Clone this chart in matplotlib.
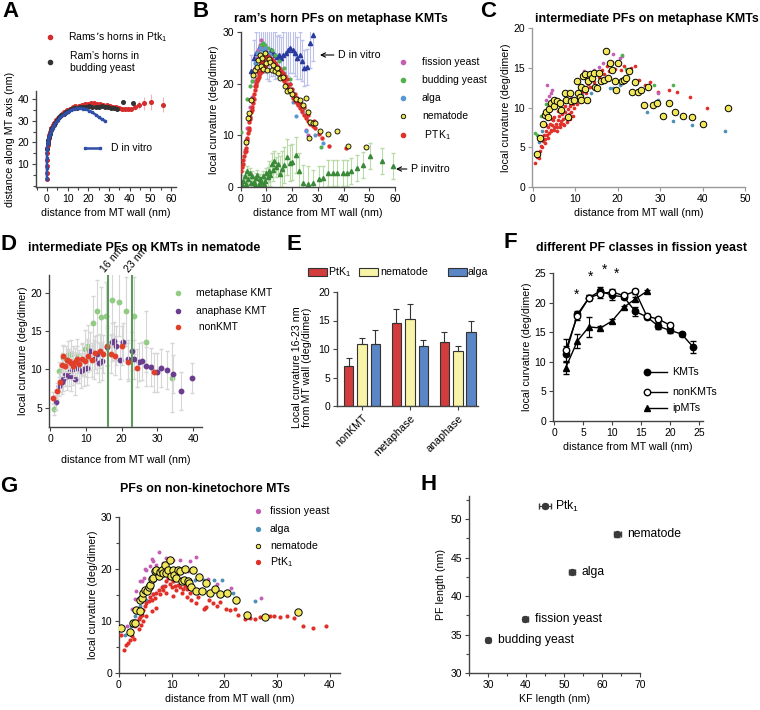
import numpy as np
import matplotlib
matplotlib.use('Agg')
import matplotlib.pyplot as plt
from matplotlib.lines import Line2D
from matplotlib.patches import Rectangle
from matplotlib.ticker import MultipleLocator

plt.rcParams['font.family'] = ['Liberation Sans', 'DejaVu Sans']
plt.rcParams['mathtext.default'] = 'regular'
plt.rcParams['font.size'] = 7.5

W, H = 760, 710

# ---------------- Panel A: ram's horn shapes ----------------
a_ptk_x = [0, 0, 0, 0, 0, 0.2, 0.3, 0.5, 0.8, 1.2, 1.6, 2.1, 2.7, 3.4, 4.2, 5.1, 6.1, 7.2, 8.4, 9.7,
           11.0, 12.4, 13.8, 15.3, 16.8, 18.3, 19.8, 21.3, 22.8, 24.3, 25.8, 27.3, 28.8, 30.3, 31.8,
           33.3, 34.8, 36.3, 37.8, 39.3, 40.8, 42.5, 44.5, 47.0, 50.5, 56.0]
a_ptk_y = [3, 6, 9, 12, 15, 17.5, 19, 20.5, 22, 23.5, 25, 26.5, 27.8, 29, 30.2, 31.3, 32.3, 33.2, 34, 34.8,
           35.5, 36.1, 36.6, 37, 37.4, 37.7, 37.9, 38, 38, 37.9, 37.7, 37.4, 37.1, 36.8, 36.5,
           36.2, 35.9, 35.6, 35.4, 35.3, 35.5, 36.5, 37.2, 38, 38.6, 37.3]
a_ptk_err = [0.8] * 40 + [1.0, 1.5, 2.0, 3.0, 3.5, 3.5]
a_bud_x = [0.1, 0.3, 0.6, 1, 1.5, 2, 2.6, 3.3, 4, 5, 6, 7, 8, 9, 10, 11.5, 13, 14.5, 16, 17.5, 19, 20.5,
           22, 23.5, 25, 26.5, 28, 29.5, 31, 32.5, 34, 37, 41.5]
a_bud_y = [17, 19.5, 21, 22.5, 24, 25.5, 26.8, 28, 29, 30.3, 31.5, 32.5, 33.3, 34, 34.6, 35.2, 35.7, 36,
           36.2, 36.4, 36.5, 36.6, 36.5, 36.4, 36.5, 36.6, 36.4, 36.2, 36, 35.8, 35.6, 38.5, 38]
a_dvit_x = [0, 0, 0, 0.1, 0.3, 0.6, 1, 1.5, 2, 2.7, 3.5, 4.4, 5.4, 6.5, 7.7, 9, 10.3, 11.7, 13.1, 14.5,
            16, 17.5, 19, 20.5, 22, 23.5, 25, 26.5, 28.2]
a_dvit_y = [3, 8, 13, 17, 19.5, 21, 22.5, 24, 25.3, 26.6, 28, 29.2, 30.4, 31.5, 32.5, 33.4, 34.2, 34.9,
            35.4, 35.7, 35.8, 35.6, 35.2, 34.6, 33.8, 32.8, 31.7, 30.7, 29.8]

# ---------------- Panel B: ram's horn PFs ----------------
b_ptk_x = [0.3, 0.5, 0.8, 1.0, 1.3, 1.6, 1.9, 2.2, 2.5, 2.8, 3.1, 3.4, 3.7, 4.0, 4.3, 4.6, 4.9, 5.2, 5.5,
           5.8, 6.1, 6.4, 6.7, 7.0, 7.3, 7.6, 7.9, 8.2, 8.5, 8.8, 9.1, 9.4, 9.7, 10.0, 10.4, 10.8, 11.2,
           11.6, 12.0, 12.4, 12.8, 13.2, 13.6, 14.0, 14.5, 15.0, 15.5, 16.0, 16.5, 17.0, 17.5, 18.0,
           18.6, 19.2, 19.8, 20.4, 21.0, 21.7, 22.4, 23.1, 23.8, 24.6, 25.4, 26.2, 27.0, 28.0, 29.0,
           30.5, 31.5, 34.5, 41.0,
           2.0, 2.6, 3.2, 3.8, 4.4, 5.0, 5.6, 6.2, 6.8, 7.4, 8.0, 8.6, 9.2, 9.8, 10.5, 11.2, 11.9, 12.6,
           13.3, 14.0, 14.8, 15.6, 16.4, 17.2, 18.0, 19.0, 20.0, 21.0, 22.0, 23.0, 24.5, 26.0, 28.5]
b_ptk_y = [3.0, 3.8, 4.5, 5.2, 6.0, 6.8, 7.6, 8.5, 9.5, 10.5, 11.5, 12.5, 13.5, 14.5, 15.5, 16.3, 17.2,
           18.0, 18.8, 19.5, 20.0, 20.5, 21.0, 21.3, 21.7, 22.0, 22.3, 22.5, 22.8, 23.0, 23.2, 23.5,
           23.7, 24.0, 24.3, 24.5, 24.3, 24.6, 24.2, 24.5, 24.0, 23.8, 23.5, 23.2, 22.8, 22.3, 21.8,
           21.4, 21.0, 20.5, 20.0, 19.6, 19.0, 18.5, 17.8, 17.2, 16.7, 16.2, 15.8, 15.3, 14.8, 14.0,
           13.3, 12.8, 12.2, 11.8, 11.4, 10.2, 9.5, 8.0, 7.5,
           7.0, 9.0, 11.0, 13.2, 15.0, 17.0, 19.5, 21.0, 22.2, 23.0, 24.0, 24.5, 25.0, 25.2, 25.3, 25.0,
           24.8, 24.4, 24.0, 23.5, 23.0, 22.5, 22.0, 21.5, 21.0, 20.0, 19.0, 18.0, 17.3, 16.5, 15.5,
           14.0, 12.8]
b_fis_x = [1.5, 2.0, 2.6, 3.2, 3.8, 4.4, 5.0, 5.6, 6.2, 6.8, 7.4, 8.0, 8.6, 9.2, 10.0, 11.0, 12.0, 13.0,
           14.0, 15.5, 17.0, 18.5, 20.0, 22.0, 24.0, 25.5, 26.0]
b_fis_y = [7.2, 9.0, 11.5, 13.5, 15.5, 17.5, 20.5, 23.0, 25.0, 26.5, 27.5, 28.5, 27.0, 26.5, 26.0, 25.3,
           24.8, 24.2, 23.5, 22.8, 21.5, 20.0, 18.5, 16.5, 14.5, 11.0, 10.0]
b_bud_x = [0.1, 2.5, 3.5, 4.2, 5.0, 6.0, 7.0, 8.0, 8.8, 9.5, 10.5, 12.0, 13.5, 15.0, 17.0, 19.0, 21.0,
           23.0, 24.5, 26.0, 31.2]
b_bud_y = [10.7, 17.0, 19.5, 20.5, 21.5, 24.0, 26.0, 27.5, 28.0, 27.5, 27.0, 26.5, 25.5, 24.5, 23.0,
           21.0, 17.5, 16.0, 15.3, 14.8, 7.8]
b_alg_x = [5.5, 6.5, 7.5, 8.5, 9.5, 10.5, 11.5, 13.0, 15.0, 17.0, 19.0, 20.5, 21.5, 25.5, 29.0, 32.0]
b_alg_y = [24.0, 26.0, 27.0, 26.5, 27.0, 26.0, 25.5, 24.0, 23.0, 22.0, 20.0, 16.5, 13.8, 10.8, 10.0, 8.5]
b_nem_x = [2.1, 3.0, 3.4, 4.0, 4.9, 5.6, 6.2, 6.9, 7.5, 7.8, 8.3, 8.8, 9.5, 9.8, 10.4, 10.9, 11.4, 12.0,
           12.7, 13.3, 14.0, 14.6, 15.3, 16.3, 17.2, 18.1, 19.2, 19.8, 21.5, 23.1, 24.4, 25.5, 26.0,
           27.0, 28.0, 29.0, 26.5, 31.0, 34.0, 37.5, 41.8, 48.8]
b_nem_y = [8.7, 13.3, 14.3, 16.9, 21.7, 22.7, 23.3, 24.6, 25.6, 23.5, 25.0, 22.8, 25.9, 24.0, 22.7, 24.8,
           24.2, 22.6, 23.7, 22.4, 23.0, 22.0, 21.1, 21.4, 19.6, 18.5, 18.8, 18.1, 17.0, 16.9, 15.9,
           17.2, 14.5, 12.5, 12.3, 12.4, 9.5, 10.8, 10.3, 10.8, 7.9, 7.7]
b_dvit_x = [4.0, 5.0, 6.0, 7.0, 7.8, 8.6, 9.4, 10.2, 11.0, 11.8, 12.6, 13.4, 14.2, 15.0, 15.8, 16.6, 17.5,
            18.4, 19.3, 20.2, 21.1, 22.0, 22.9, 23.8, 24.7, 25.6, 27.0, 28.2]
b_dvit_y = [22.5, 25.0, 26.0, 27.0, 27.5, 27.0, 26.5, 26.0, 25.5, 26.5, 26.0, 25.5, 25.2, 25.5, 25.0,
            25.5, 26.0, 26.5, 27.0, 26.5, 26.0, 25.0, 25.5, 24.5, 23.0, 23.2, 28.0, 29.5]
b_dvit_err = [3.0, 3.5, 4.0, 4.0, 4.5, 4.5, 4.5, 5.0, 5.0, 5.0, 4.5, 4.5, 4.0, 4.0, 4.0, 4.5, 4.5, 5.0,
              5.0, 4.5, 4.5, 4.0, 4.5, 4.0, 3.5, 3.5, 5.0, 5.0]
b_pvit_x = [0.5, 1.0, 1.5, 2.0, 2.5, 3.0, 3.5, 4.0, 4.5, 5.0, 5.5, 6.0, 6.5, 7.0, 7.5, 8.0, 8.5, 9.0,
            9.5, 10.0, 10.5, 11.0, 11.5, 12.0, 12.5, 13.0, 13.7, 14.5, 15.3, 16.0, 17.0, 17.9, 19.0,
            20.0, 21.5, 22.5, 24.4, 26.3, 28.2, 30.5, 32.0, 34.0, 35.8, 37.6, 39.6, 41.2, 43.0, 45.3,
            47.4, 50.3, 54.8, 59.3]
b_pvit_y = [0.3, 1.2, 2.0, 0.5, 3.0, 1.5, 2.6, 0.8, 2.0, 1.0, 0.4, 1.6, 2.3, 0.6, 1.5, 0.9, 2.0, 0.5,
            1.2, 2.6, 1.8, 3.0, 2.2, 4.5, 3.2, 4.9, 3.8, 4.5, 2.5, 3.5, 4.2, 5.8, 4.6, 4.8, 6.2, 3.0,
            0.8, 0.6, 0.8, 1.5, 1.6, 2.6, 2.6, 2.6, 2.7, 2.7, 3.0, 3.6, 4.2, 6.0, 5.0, 4.0]
b_pvit_err = [1.0] * 20 + [2.0] * 8 + [3.5] * 10 + [2.5] * 14

# ---------------- Panel C: intermediate PFs ----------------
c_ptk_x = [0.6, 0.9, 1.2, 1.4, 1.7, 1.9, 2.1, 2.4, 2.6, 2.9, 3.1, 3.3, 3.6, 3.8, 4.0, 4.2, 4.5, 4.7,
           4.9, 5.1, 5.4, 5.6, 5.9, 6.1, 6.3, 6.6, 6.8, 7.1, 7.3, 7.6, 7.9, 8.2, 8.5, 8.8, 9.1, 9.4,
           9.7, 10.0, 10.4, 10.8, 11.2, 11.6, 12.0, 12.5, 13.0, 13.5, 14.0, 14.5, 15.0, 15.6, 16.2,
           16.8, 17.4, 18.0, 18.7, 19.4, 20.1, 20.8, 21.5, 22.3, 23.2, 24.1, 25.0, 26.5, 27.5, 29.5,
           32.0, 34.0, 37.0, 41.0,
           2.0, 2.8, 3.5, 4.3, 5.0, 5.8, 6.5, 7.2, 8.0, 8.7, 9.5, 3.0, 4.6, 6.0, 7.5, 9.0, 10.5, 11.5]
c_ptk_y = [3.0, 3.8, 4.2, 3.6, 4.5, 5.2, 5.0, 5.8, 6.5, 6.0, 7.0, 6.6, 7.5, 6.8, 8.0, 7.2, 7.8, 8.4,
           7.5, 8.8, 8.0, 7.6, 8.5, 9.0, 7.9, 8.3, 9.2, 8.6, 7.8, 9.5, 8.8, 9.8, 9.2, 10.2, 9.5, 10.5,
           10.0, 11.0, 10.4, 11.5, 11.0, 12.0, 12.5, 11.8, 13.0, 12.6, 13.8, 13.2, 14.5, 13.8, 14.8,
           14.2, 15.3, 14.6, 15.8, 14.9, 15.5, 14.8, 15.2, 14.6, 15.0, 15.2, 13.5, 12.8, 13.2, 12.0,
           12.2, 12.0, 11.3, 9.9,
           6.2, 5.5, 6.2, 7.0, 7.2, 7.0, 7.6, 8.0, 8.2, 8.6, 9.0, 7.8, 8.6, 9.6, 10.2, 10.8, 12.0, 12.5]
c_fis_x = [3.0, 3.4, 3.8, 4.2, 4.5, 9.0, 12.0, 13.5, 14.5, 15.5, 16.5, 19.0, 20.5, 21.0, 29.5]
c_fis_y = [11.0, 12.9, 11.5, 11.8, 12.2, 11.2, 14.6, 14.2, 14.8, 15.1, 15.6, 16.8, 16.2, 16.5, 11.8]
c_bud_x = [0.5, 1.0, 2.0, 2.6, 3.2, 4.0, 20.0, 21.0, 22.0, 28.5, 33.0]
c_bud_y = [6.8, 6.6, 8.9, 9.1, 10.4, 10.0, 15.8, 16.6, 14.9, 12.9, 12.9]
c_alg_x = [1.5, 2.2, 3.5, 5.2, 11.5, 13.8, 15.0, 18.2, 19.0, 20.5, 27.0, 29.5, 33.0, 37.5, 45.2]
c_alg_y = [5.7, 7.0, 9.8, 10.3, 11.6, 11.8, 12.5, 12.5, 12.5, 12.9, 9.5, 11.0, 8.3, 7.8, 7.1]
c_nem_x = [0.9, 1.8, 2.4, 2.8, 3.1, 3.5, 3.9, 4.3, 4.9, 5.1, 5.7, 6.3, 6.7, 7.5, 7.9, 8.3, 8.7, 9.1,
           9.8, 10.4, 10.7, 11.0, 11.3, 11.4, 11.8, 12.2, 12.4, 12.8, 13.0, 13.4, 14.0, 14.4, 14.6,
           15.1, 15.6, 16.1, 16.7, 17.2, 17.7, 18.1, 18.7, 19.3, 19.7, 20.1, 20.9, 21.4, 22.0, 22.6,
           23.4, 24.0, 24.7, 25.5, 26.1, 27.2, 28.2, 29.3, 30.6, 32.0, 33.5, 35.3, 37.5, 40.2, 45.9]
c_nem_y = [4.2, 6.2, 8.0, 9.1, 9.4, 8.8, 9.8, 10.6, 10.2, 11.0, 10.9, 10.6, 9.7, 11.8, 11.0, 8.8, 11.9,
           10.8, 11.0, 13.3, 11.9, 11.4, 12.6, 11.0, 14.0, 12.3, 14.3, 11.0, 13.3, 14.3, 13.7, 14.4,
           12.6, 12.5, 14.4, 13.3, 13.5, 17.2, 13.7, 15.6, 14.7, 13.4, 12.2, 15.6, 13.3, 13.5, 13.7,
           14.6, 12.0, 13.2, 12.0, 12.2, 10.3, 12.6, 10.3, 10.6, 8.9, 10.6, 9.5, 8.9, 8.8, 8.0, 9.9]

# ---------------- Panel D: nematode KMT classes ----------------
d_met_x = [1.1, 2.6, 3.5, 4.5, 5.1, 5.8, 6.5, 7.4, 8.2, 8.9, 9.8, 10.4, 10.7, 11.9, 13.0, 14.2, 15.6,
           17.4, 19.2, 21.2, 23.4, 26.9, 34.2]
d_met_y = [4.8, 9.8, 11.5, 11.6, 11.9, 12.0, 11.1, 11.9, 10.2, 11.3, 12.6, 11.5, 13.0, 16.0, 17.6, 16.8,
           16.9, 19.1, 18.8, 17.6, 17.0, 13.6, 8.9]
d_met_err = [0.8, 1.2, 1.5, 1.5, 1.8, 1.8, 2.0, 2.0, 2.0, 2.2, 2.5, 2.5, 2.8, 3.5, 4.0, 4.0, 4.5, 4.5,
             4.5, 4.5, 5.0, 4.0, 4.5]
d_ana_x = [1.7, 2.6, 3.3, 3.7, 4.2, 4.7, 5.2, 5.8, 6.3, 7.1, 7.6, 8.6, 9.5, 10.4, 11.3, 12.3, 13.0,
           13.7, 14.5, 15.8, 17.2, 17.9, 18.4, 19.5, 20.5, 21.9, 22.9, 23.4, 24.9, 25.6, 26.9, 28.1,
           29.8, 30.9, 32.6, 34.4, 36.7, 39.8]
d_ana_y = [5.7, 7.8, 8.3, 8.7, 9.3, 9.1, 9.6, 9.2, 10.0, 8.7, 10.2, 9.8, 10.0, 10.2, 12.4, 11.3, 12.0,
           10.9, 11.1, 12.9, 13.6, 13.7, 13.1, 11.2, 13.6, 11.3, 12.4, 11.3, 11.0, 11.1, 10.4, 10.3,
           9.6, 10.2, 9.9, 9.4, 7.2, 8.9]
d_ana_err = [1.0, 1.2, 1.5, 1.5, 1.5, 1.8, 1.8, 2.0, 2.0, 2.0, 2.0, 2.2, 2.2, 2.2, 2.5, 2.5, 2.5, 2.5,
             2.5, 2.5, 2.5, 2.5, 2.5, 2.5, 2.5, 2.5, 2.5, 2.5, 2.5, 2.5, 2.5, 2.5, 2.5, 2.5, 2.5,
             2.5, 2.5, 2.0]
d_non_x = [0.9, 2.0, 2.8, 3.3, 3.7, 4.3, 4.7, 5.2, 5.8, 6.3, 6.9, 7.4, 8.0, 8.8, 9.8, 10.7, 11.7, 12.7,
           13.9, 14.9, 16.0, 17.0, 18.1, 20.0, 21.7, 24.4, 29.0]
d_non_y = [6.3, 7.2, 8.3, 10.6, 11.7, 10.4, 11.2, 11.1, 10.9, 10.5, 11.0, 11.3, 10.7, 11.3, 11.1, 11.7,
           11.2, 12.2, 12.4, 12.0, 13.1, 12.0, 11.8, 13.1, 11.0, 10.2, 9.6]
d_non_err = [0.8, 1.0, 1.2, 1.5, 1.5, 1.5, 1.5, 1.5, 1.5, 1.8, 1.8, 1.8, 1.8, 2.0, 2.0, 2.0, 2.2, 2.2,
             2.2, 2.5, 2.5, 2.5, 2.5, 2.5, 2.5, 2.5, 2.5]
d_marks = [16.3, 23.0]

# ---------------- Panel E: mean curvature 16-23 nm ----------------
e_groups = ['nonKMT', 'metaphase', 'anaphase']
e_ptk = [7.0, 14.6, 11.3]
e_ptk_err = [1.5, 2.4, 1.6]
e_nem = [10.9, 15.3, 9.7]
e_nem_err = [1.1, 2.6, 0.8]
e_alg = [10.9, 10.6, 13.0]
e_alg_err = [2.4, 0.9, 2.0]

# ---------------- Panel F: fission yeast PF classes ----------------
f_kmt_x = [2, 4, 6, 8, 10, 12, 14, 16, 18, 20, 22, 24]
f_kmt_y = [11.3, 18.0, 20.8, 22.0, 21.2, 21.0, 18.5, 17.6, 16.0, 15.3, 14.7, 12.5]
f_kmt_err = [1.3, 0.5, 0.4, 0.6, 0.7, 0.4, 0.8, 0.4, 0.5, 0.5, 0.3, 1.0]
f_non_x = [2, 4, 6, 8, 10, 12, 14, 16, 18, 20]
f_non_y = [12.0, 17.7, 20.8, 21.5, 21.8, 21.2, 21.9, 17.7, 17.2, 16.2]
f_non_err = [1.8, 0.6, 0.4, 0.8, 0.5, 0.5, 0.4, 0.3, 0.4, 0.4]
f_ip_x = [2, 4, 6, 8, 10, 12, 14, 16]
f_ip_y = [9.0, 13.5, 15.9, 15.7, 16.9, 19.2, 20.6, 21.9]
f_ip_err = [1.0, 1.2, 1.7, 0.3, 0.3, 0.3, 0.3, 0.3]
f_star_x = [3.9, 6.3, 8.7, 10.7]
f_star_y = [21.3, 24.4, 25.6, 24.9]

# ---------------- Panel G: non-kinetochore MTs ----------------
g_nem_x = [0.3, 2.1, 2.7, 3.0, 3.3, 3.9, 4.0, 4.3, 4.6, 4.9, 5.4, 5.6, 5.9, 6.2, 6.5, 6.8, 7.1, 7.5, 7.8,
           8.1, 8.4, 8.7, 9.0, 9.3, 9.7, 9.9, 10.2, 10.4, 10.8, 11.1, 11.6, 11.9, 12.3, 12.6, 13.0,
           13.2, 13.6, 14.0, 14.6, 15.2, 15.7, 16.5, 17.2, 18.2, 19.1, 20.4, 22.1, 24.2, 27.7, 34.0]
g_nem_y = [8.7, 7.8, 9.7, 9.7, 12.2, 14.0, 11.9, 14.4, 15.4, 16.0, 15.8, 16.5, 17.0, 18.1, 18.3, 19.6,
           19.9, 18.6, 19.4, 19.9, 19.2, 20.7, 19.2, 19.9, 21.8, 18.6, 19.9, 18.9, 18.3, 19.9, 19.7,
           17.6, 17.9, 20.0, 17.6, 17.4, 16.5, 19.9, 15.7, 18.5, 15.8, 17.3, 15.3, 16.2, 15.1, 15.4,
           14.0, 11.2, 10.7, 11.7]
g_ptk_x = [0.3, 0.9, 1.3, 1.8, 2.1, 2.4, 2.8, 3.0, 3.3, 3.7, 4.0, 4.3, 4.6, 4.9, 5.2, 5.6, 5.9, 6.2,
           6.5, 6.8, 7.1, 7.5, 7.8, 8.1, 8.4, 8.7, 9.0, 9.3, 9.7, 10.0, 10.3, 10.6, 10.9, 11.2, 11.6,
           12.1, 12.5, 12.9, 13.5, 14.0, 14.4, 15.0, 15.5, 16.1, 16.5, 17.1, 17.8, 18.5, 19.1, 20.3,
           21.0, 22.0, 22.6, 23.9, 24.8, 25.8, 26.7, 28.6, 29.4, 30.5, 31.8, 33.2, 34.8, 36.7, 39.2,
           7.1, 6.2, 5.2, 4.6, 4.1, 3.7, 9.0, 10.3, 11.9, 12.8, 13.7, 14.6, 16.3]
g_ptk_y = [7.4, 4.5, 5.4, 5.8, 6.3, 7.1, 6.5, 9.0, 9.6, 10.3, 10.8, 11.2, 12.2, 12.8, 13.5, 13.8, 14.6,
           14.1, 15.1, 14.4, 15.4, 16.0, 15.1, 16.5, 16.0, 16.8, 17.6, 18.3, 17.2, 16.5, 17.6, 16.8,
           16.0, 17.0, 16.5, 16.2, 16.7, 16.2, 15.4, 16.3, 15.5, 14.6, 16.0, 12.3, 12.7, 14.0, 13.5,
           12.9, 13.6, 12.3, 12.2, 12.3, 11.2, 10.3, 10.6, 10.4, 10.8, 10.9, 11.0, 10.8, 10.9, 10.6,
           9.0, 8.7, 9.0,
           12.5, 12.0, 11.0, 10.0, 9.2, 8.5, 15.3, 14.8, 15.3, 14.7, 14.1, 13.5, 12.5]
g_fis_x = [1.5, 2.4, 3.0, 3.3, 3.9, 4.3, 4.7, 4.9, 5.2, 5.9, 6.2, 6.5, 7.0, 7.6, 8.4, 9.0, 10.3, 11.6,
           13.1, 13.5, 14.6, 15.4, 16.9, 18.5, 21.3, 27.0]
g_fis_y = [9.0, 12.3, 14.2, 15.7, 17.6, 17.6, 18.3, 20.0, 19.9, 20.5, 22.0, 21.5, 20.8, 23.2, 21.1, 22.1,
           21.8, 21.8, 19.6, 21.5, 22.3, 18.6, 18.0, 17.2, 16.3, 14.4]
g_alg_x = [1.1, 2.2, 3.0, 4.0, 5.2, 6.5, 8.4, 10.3, 12.8, 14.4, 16.1, 18.0, 19.5, 21.7, 25.8]
g_alg_y = [7.4, 9.0, 11.0, 12.8, 14.1, 15.1, 16.7, 17.6, 17.9, 17.8, 17.8, 17.8, 17.8, 15.3, 13.8]

# ---------------- Panel H: PF length vs KF length ----------------
h_names = ['Ptk$_1$', 'nematode', 'alga', 'fission yeast', 'budding yeast']
h_kf = [45.0, 64.0, 52.1, 39.8, 30.0]
h_kf_err = [1.6, 0.9, 0.8, 0.6, 0.6]
h_pf = [51.7, 48.0, 43.1, 37.0, 34.3]
h_pf_err = [0.3, 0.3, 0.3, 0.3, 0.3]

RED = '#e0302a'
MAG = '#c45fb3'
GRN = '#52b04f'
BLU = '#5b98d2'
TEAL = '#4f90b5'
YEL = '#f0e85a'
DARK = '#444444'
LAB = 7.7

fig = plt.figure(figsize=(W / 100, H / 100), dpi=100)


def new_ax(l, t, r, b, color=DARK):
    ax = fig.add_axes([l / W, 1 - b / H, (r - l) / W, (b - t) / H])
    for s in ['top', 'right']:
        ax.spines[s].set_visible(False)
    for s in ['left', 'bottom']:
        ax.spines[s].set_color(color)
        ax.spines[s].set_linewidth(1.0)
    ax.tick_params(which='both', direction='out', length=3, width=0.8, color=color,
                   labelsize=7.5, pad=2)
    ax.tick_params(which='minor', length=2)
    ax.patch.set_alpha(0)
    return ax


def key(xs, y, text, tx, fs=7.5, **kw):
    fig.add_artist(Line2D([x / W for x in xs], [1 - y / H] * len(xs),
                          transform=fig.transFigure, **kw))
    fig.text(tx / W, 1 - y / H, text, va='center', ha='left', fontsize=fs)


def letter(x, y, s):
    fig.text(x / W, 1 - y / H, s, fontsize=16, fontweight='bold', va='top', ha='left')


def title(x, y, s):
    fig.text(x / W, 1 - y / H, s, fontsize=8.9, fontweight='bold', va='center', ha='center')


# ---------- A ----------
ax = new_ax(36, 91, 176, 187)
ax.errorbar(a_ptk_x, a_ptk_y, yerr=a_ptk_err, fmt='o', ms=2.6, color='#d42b2b',
            ecolor='#f2b5b5', elinewidth=0.8, zorder=2)
ax.errorbar(a_bud_x, a_bud_y, yerr=[0.7] * len(a_bud_x), fmt='o', ms=2.6, color='#333333',
            ecolor='#c0c0c0', elinewidth=0.8, zorder=3)
ax.plot(a_dvit_x, a_dvit_y, '-s', color='#2f4fa8', lw=1.8, ms=2, zorder=4)
ax.set_xlim(-5.3, 62.4)
ax.set_ylim(-0.6, 43.7)
ax.xaxis.set_major_locator(MultipleLocator(10))
ax.xaxis.set_minor_locator(MultipleLocator(5))
ax.set_yticks([10, 20, 30, 40])
ax.yaxis.set_minor_locator(MultipleLocator(5))
ax.set_xlabel('distance from MT wall (nm)', fontsize=LAB, labelpad=3)
ax.set_ylabel('distance along MT axis (nm)', fontsize=LAB, labelpad=2)
key([50], 37, 'Rams\u2019s horns in Ptk$_1$', 68, marker='o', ms=3, color='#d42b2b', ls='none')
key([50], 62, 'Ram\u2019s horns in\nbudding yeast', 70, marker='o', ms=3, color='#333333', ls='none')
key([85, 100], 148, 'D in vitro', 111, marker='s', ms=2, markevery=[0, 1], color='#2f4fa8', lw=1.8)
letter(2, 1, 'A')

# ---------- B ----------
ax = new_ax(240.7, 32.3, 395, 186.7)
ax.errorbar(b_pvit_x, b_pvit_y, yerr=b_pvit_err, fmt='^', ms=3, color='#3a8a3a',
            ecolor='#b8dba8', elinewidth=0.8, capsize=1.5, zorder=2)
ax.errorbar(b_dvit_x, b_dvit_y, yerr=b_dvit_err, fmt='^', ms=3, color='#2b3a9e',
            ecolor='#bcc2ea', elinewidth=0.8, capsize=1.5, zorder=2)
ax.scatter(b_fis_x, b_fis_y, s=9, color=MAG, lw=0, zorder=3)
ax.scatter(b_bud_x, b_bud_y, s=9, color=GRN, lw=0, zorder=3)
ax.scatter(b_alg_x, b_alg_y, s=9, color=BLU, lw=0, zorder=3)
ax.scatter(b_ptk_x, b_ptk_y, s=10, color=RED, lw=0, zorder=4)
ax.scatter(b_nem_x, b_nem_y, s=13, color=YEL, edgecolor='black', lw=0.6, zorder=5)
ax.set_xlim(0, 60)
ax.set_ylim(0, 30)
ax.set_xticks(range(0, 61, 10))
ax.set_yticks([0, 10, 20, 30])
ax.set_xlabel('distance from MT wall (nm)', fontsize=LAB, labelpad=3)
ax.set_ylabel('local curvature (deg/dimer)', fontsize=LAB, labelpad=2)
fig.add_artist(matplotlib.text.Annotation('D in vitro', xy=(320 / W, 1 - 55 / H),
               xytext=(338 / W, 1 - 55 / H), xycoords='figure fraction',
               textcoords='figure fraction', va='center', ha='left', fontsize=7.7,
               arrowprops=dict(arrowstyle='->', lw=0.8, color='black', shrinkA=1, shrinkB=0)))
fig.add_artist(matplotlib.text.Annotation('P invitro', xy=(396 / W, 1 - 169 / H),
               xytext=(411 / W, 1 - 169 / H), xycoords='figure fraction',
               textcoords='figure fraction', va='center', ha='left', fontsize=7.7,
               arrowprops=dict(arrowstyle='->', lw=0.8, color='black', shrinkA=1, shrinkB=0)))
key([403], 62, 'fission yeast', 422, marker='o', ms=3, color=MAG, ls='none')
key([403], 80, 'budding yeast', 422, marker='o', ms=3, color=GRN, ls='none')
key([403], 98, 'alga', 422, marker='o', ms=3, color=BLU, ls='none')
key([403], 116, 'nematode', 422, marker='o', ms=3.2, mfc=YEL, mec='black', mew=0.6, ls='none')
key([403], 135, ' PTK$_1$', 422, marker='o', ms=3, color=RED, ls='none')
title(341, 19, 'ram\u2019s horn PFs on metaphase KMTs')
letter(192, 1, 'B')

# ---------- C ----------
ax = new_ax(532, 28.3, 745, 187, color='#999999')
ax.scatter(c_ptk_x, c_ptk_y, s=7, color=RED, lw=0, zorder=2)
ax.scatter(c_fis_x, c_fis_y, s=7, color=MAG, lw=0, zorder=2)
ax.scatter(c_bud_x, c_bud_y, s=7, color=GRN, lw=0, zorder=2)
ax.scatter(c_alg_x, c_alg_y, s=7, color=TEAL, lw=0, zorder=2)
ax.scatter(c_nem_x, c_nem_y, s=22, color=YEL, edgecolor='black', lw=0.7, zorder=3)
ax.set_xlim(-0.2, 50)
ax.set_ylim(0, 20)
ax.set_xticks(range(0, 51, 10))
ax.set_yticks([0, 5, 10, 15, 20])
ax.set_xlabel('distance from MT wall (nm)', fontsize=LAB, labelpad=3)
ax.set_ylabel('local curvature (deg/dimer)', fontsize=LAB, labelpad=2)
title(647, 19, 'intermediate PFs on metaphase KMTs')
letter(480, 1, 'C')

# ---------- D ----------
ax = new_ax(49, 275, 202, 427)
ax.errorbar(d_met_x, d_met_y, yerr=d_met_err, fmt='o', ms=3.2, color='#92cc84',
            ecolor='#d6d6d6', elinewidth=0.8, capsize=1.5, zorder=2)
ax.errorbar(d_ana_x, d_ana_y, yerr=d_ana_err, fmt='o', ms=3.2, color='#6a3d8f',
            ecolor='#d6d6d6', elinewidth=0.8, capsize=1.5, zorder=3)
ax.errorbar(d_non_x, d_non_y, yerr=d_non_err, fmt='o', ms=3.2, color='#e0402a',
            ecolor='#d6d6d6', elinewidth=0.8, capsize=1.5, zorder=4)
for xm in d_marks:
    ax.axvline(xm, color='#5c9a5c', lw=1.5, zorder=5)
ax.text(15.4, 22.6, '16 nm', rotation=50, rotation_mode='anchor', ha='left', va='baseline',
        fontsize=7.7)
ax.text(22.1, 22.6, '23 nm', rotation=50, rotation_mode='anchor', ha='left', va='baseline',
        fontsize=7.7)
ax.set_xlim(-0.3, 42.5)
ax.set_ylim(2.5, 22.3)
ax.set_xticks(range(0, 41, 10))
ax.set_yticks([5, 10, 15, 20])
ax.set_xlabel('distance from MT wall (nm)', fontsize=LAB, labelpad=8)
ax.set_ylabel('local curvature (deg/dimer)', fontsize=LAB, labelpad=2)
key([178], 293, 'metaphase KMT', 196, marker='o', ms=3, color='#92cc84', ls='none')
key([178], 311, 'anaphase KMT', 196, marker='o', ms=3, color='#6a3d8f', ls='none')
key([178], 327, ' nonKMT', 196, marker='o', ms=3, color='#e0402a', ls='none')
title(144, 248, 'intermediate PFs on KMTs in nematode')
letter(0, 234, 'D')

# ---------- E ----------
ax = new_ax(337, 292, 478, 406)
xe = np.arange(len(e_groups))
bw, off = 0.2, 0.28
for dx, vals, errs, col in [(-off, e_ptk, e_ptk_err, '#d23c3c'), (0, e_nem, e_nem_err, '#f7f4a8'),
                            (off, e_alg, e_alg_err, '#5a86c6')]:
    ax.bar(xe + dx, vals, bw, color=col, edgecolor='#333333', lw=0.8,
           yerr=[[0] * 3, errs], error_kw=dict(ecolor='#333333', elinewidth=0.8, capsize=2.5,
                                                capthick=0.8))
ax.set_xlim(-0.52, 2.42)
ax.set_ylim(0, 20)
ax.set_yticks([0, 5, 10, 15, 20])
ax.set_xticks(xe)
ax.set_xticklabels(e_groups, rotation=45, ha='right', rotation_mode='anchor', fontsize=7.7)
fig.text(302 / W, 1 - 367 / H, 'Local curvature 16-23 nm\nfrom MT wall (deg/dimer)',
         rotation=90, ha='center', va='center', fontsize=LAB, multialignment='center',
         linespacing=1.1)
for rx, col, lab, tx in [(308, '#d23c3c', 'PtK$_1$', 328), (359, '#f7f4a8', 'nematode', 380),
                         (448, '#5a86c6', 'alga', 468)]:
    fig.add_artist(Rectangle((rx / W, 1 - 276 / H), 19 / W, 8 / H, transform=fig.transFigure,
                             facecolor=col, edgecolor='#333333', lw=0.8))
    fig.text(tx / W, 1 - 272 / H, lab, va='center', ha='left', fontsize=7.7)
letter(286, 234, 'E')

# ---------- F ----------
ax = new_ax(553, 273, 703, 421)
ax.errorbar(f_ip_x, f_ip_y, yerr=f_ip_err, fmt='-^', ms=4.2, color='black', lw=1,
            capsize=2.5, elinewidth=0.8, zorder=2)
ax.errorbar(f_kmt_x, f_kmt_y, yerr=f_kmt_err, fmt='-o', ms=4.6, color='black', lw=1,
            capsize=2.5, elinewidth=0.8, zorder=3)
ax.errorbar(f_non_x, f_non_y, yerr=f_non_err, fmt='-o', ms=4.6, color='black', mfc='white',
            lw=1, capsize=2.5, elinewidth=0.8, zorder=4)
for sx, sy in zip(f_star_x, f_star_y):
    ax.text(sx, sy, '*', ha='center', va='center', fontsize=10, clip_on=False)
ax.set_xlim(-0.2, 25.7)
ax.set_ylim(0, 25)
ax.set_xticks(range(0, 26, 5))
ax.set_yticks(range(0, 26, 5))
ax.set_xlabel('distance from MT wall (nm)', fontsize=LAB, labelpad=3)
ax.set_ylabel('local curvature (deg/dimer)', fontsize=LAB, labelpad=2)
key([647, 667], 372, 'KMTs', 672, fs=7.7, marker='o', ms=4.6, markevery=[0], color='black', lw=1)
key([647, 667], 392, 'nonKMTs', 672, fs=7.7, marker='o', ms=4.6, markevery=[0], color='black',
    mfc='white', lw=1)
key([647, 667], 408, 'ipMTs', 672, fs=7.7, marker='^', ms=4.2, markevery=[0], color='black', lw=1)
title(641, 248, 'different PF classes in fission yeast')
letter(504, 232, 'F')

# ---------- G ----------
ax = new_ax(119, 517, 340, 673)
ax.scatter(g_fis_x, g_fis_y, s=8, color=MAG, lw=0, zorder=2)
ax.scatter(g_alg_x, g_alg_y, s=8, color=TEAL, lw=0, zorder=2)
ax.scatter(g_ptk_x, g_ptk_y, s=9, color=RED, lw=0, zorder=3)
ax.scatter(g_nem_x, g_nem_y, s=28, color=YEL, edgecolor='black', lw=0.7, zorder=4)
ax.set_xlim(0, 41.9)
ax.set_ylim(0, 30)
ax.set_xticks(range(0, 41, 10))
ax.xaxis.set_minor_locator(MultipleLocator(5))
ax.set_yticks([0, 10, 20, 30])
ax.yaxis.set_minor_locator(MultipleLocator(5))
ax.set_xlabel('distance from MT wall (nm)', fontsize=LAB, labelpad=3)
ax.set_ylabel('local curvature (deg/dimer)', fontsize=LAB, labelpad=2)
key([258], 511, 'fission yeast', 270, fs=7.7, marker='o', ms=2.8, color=MAG, ls='none')
key([258], 529, 'alga', 270, fs=7.7, marker='o', ms=2.8, color=TEAL, ls='none')
key([258], 546, 'nematode', 270, fs=7.7, marker='o', ms=3.2, mfc=YEL, mec='black', mew=0.6,
    ls='none')
key([258], 562, 'PtK$_1$', 270, fs=7.7, marker='o', ms=2.8, color=RED, ls='none')
title(205, 489, 'PFs on non-kinetochore MTs')
letter(0, 476, 'G')

# ---------- H ----------
ax = new_ax(469, 496, 640, 673)
ax.errorbar(h_kf, h_pf, xerr=h_kf_err, yerr=h_pf_err, fmt='o', ms=4.3, color='#3a3a3a',
            capsize=2, elinewidth=0.8, zorder=3)
for name, xk, yp in zip(h_names, h_kf, h_pf):
    ax.annotate(name, (xk, yp), xytext=(7, 0), textcoords='offset points', va='center',
                ha='left', fontsize=8.7)
ax.set_xlim(25, 70)
ax.set_ylim(30, 53)
ax.set_xticks(range(30, 71, 10))
ax.xaxis.set_minor_locator(MultipleLocator(5))
ax.set_yticks(range(30, 51, 5))
ax.yaxis.set_minor_locator(MultipleLocator(2.5))
ax.set_xlabel('KF length (nm)', fontsize=LAB, labelpad=3)
ax.set_ylabel('PF length (nm)', fontsize=LAB, labelpad=3)
letter(421, 474, 'H')

fig.savefig('out.png', dpi=100)
